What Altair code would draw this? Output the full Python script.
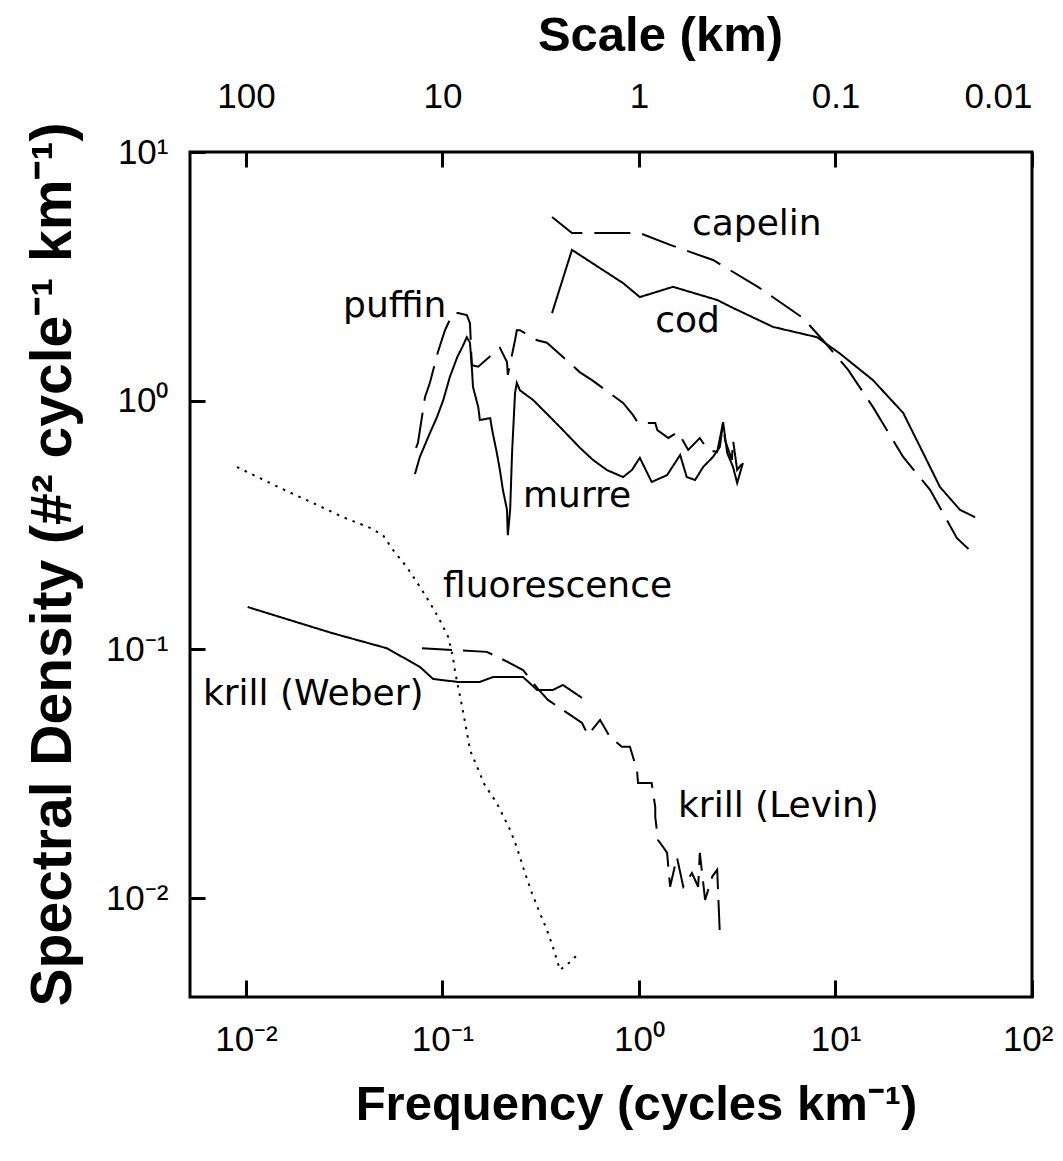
import altair as alt
import pandas as pd

# ---------------- axis ticks and labels ----------------
freq_ticks = [0.01, 0.1, 1, 10, 100]
freq_tick_labels = ["10⁻²", "10⁻¹", "10⁰", "10¹", "10²"]
scale_tick_labels = ["100", "10", "1", "0.1", "0.01"]
dens_ticks = [10, 1, 0.1, 0.01]
dens_tick_labels = ["10¹", "10⁰", "10⁻¹", "10⁻²"]

# ---------------- series (frequency, spectral density) ----------------
capelin_f = [0.361, 0.456, 1.01, 1.44, 2.38, 4.03, 6.83, 8.64, 11.6, 15.5, 22.1, 30.3, 41.5, 49.5]
capelin_s = [5.48, 4.72, 4.72, 4.23, 3.68, 2.87, 2.15, 1.75, 1.33, 0.944, 0.594, 0.438, 0.280, 0.246]

cod_f = [0.361, 0.456, 0.830, 1.01, 1.49, 2.50, 3.01, 4.81, 8.05, 10.5, 15.5, 22.1, 27.9, 34.0, 43.0, 51.3]
cod_s = [2.25, 4.04, 2.97, 2.61, 2.87, 2.54, 2.36, 1.98, 1.80, 1.55, 1.21, 0.893, 0.617, 0.45, 0.364, 0.340]

puffin_f = [0.0733, 0.075, 0.0815, 0.0863, 0.0948, 0.103, 0.113, 0.120, 0.133, 0.138, 0.141, 0.152,
            0.196, 0.213, 0.215, 0.234, 0.239, 0.248, 0.303, 0.340, 0.501, 0.577, 0.830, 0.931,
            0.989, 1.21, 1.24, 1.41, 1.58, 1.78, 2.04, 2.24, 2.50, 2.68, 2.74, 2.97, 3.01, 3.16, 3.46]
puffin_s = [0.646, 0.676, 1.035, 1.18, 1.57, 1.92, 2.25, 2.25, 2.21, 2.05, 1.39, 1.37,
            1.63, 1.43, 1.27, 1.75, 1.92, 1.92, 1.75, 1.71, 1.30, 1.21, 0.979, 0.877,
            0.813, 0.813, 0.762, 0.708, 0.748, 0.634, 0.708, 0.634, 0.622, 0.82, 0.695, 0.578, 0.695, 0.526, 0.578]

murre_f = [0.0724, 0.0767, 0.0863, 0.0938, 0.101, 0.109, 0.119, 0.126, 0.133, 0.138, 0.141, 0.143,
           0.152, 0.155, 0.175, 0.179, 0.189, 0.196, 0.203, 0.213, 0.215, 0.221, 0.226, 0.234,
           0.239, 0.248, 0.289, 0.396, 0.501, 0.583, 0.687, 0.830, 0.920, 1.01, 1.16, 1.39,
           1.62, 1.75, 1.93, 2.12, 2.38, 2.58, 2.68, 2.81, 3.01, 3.16, 3.38]
murre_s = [0.507, 0.594, 0.741, 0.86, 1.007, 1.245, 1.50, 1.64, 1.80, 1.71, 1.37, 1.135,
           0.944, 0.836, 0.851, 0.762, 0.617, 0.526, 0.438, 0.364, 0.288, 0.364, 0.617, 1.074,
           1.18, 1.10, 1.007, 0.784, 0.646, 0.578, 0.526, 0.493, 0.526, 0.589, 0.471, 0.502,
           0.605, 0.493, 0.480, 0.541, 0.594, 0.652, 0.82, 0.617, 0.541, 0.467, 0.562]

fluor_f = [0.0090, 0.0149, 0.0230, 0.0312, 0.0428, 0.0498, 0.0560, 0.0659, 0.0769, 0.0863,
           0.0970, 0.107, 0.113, 0.116, 0.126, 0.133, 0.138, 0.150, 0.164, 0.189,
           0.221, 0.239, 0.263, 0.285, 0.313, 0.340, 0.365, 0.396, 0.461, 0.490]
fluor_s = [0.541, 0.446, 0.381, 0.340, 0.308, 0.288, 0.251, 0.214, 0.178, 0.154,
           0.131, 0.112, 0.0931, 0.0811, 0.0586, 0.0466, 0.0394, 0.0337, 0.0285, 0.0241,
           0.0188, 0.0160, 0.0126, 0.0105, 0.0087, 0.00745, 0.00635, 0.00514, 0.00564, 0.00601]

weber_f = [0.0102, 0.0168, 0.0277, 0.0522, 0.0769, 0.0896, 0.119, 0.155, 0.181, 0.257, 0.303, 0.365, 0.410, 0.513]
weber_s = [0.148, 0.131, 0.116, 0.101, 0.0849, 0.076, 0.074, 0.074, 0.0774, 0.0774, 0.0687, 0.0687, 0.0719, 0.0638]

levin_f = [0.0787, 0.112, 0.168, 0.196, 0.257, 0.303, 0.344, 0.513, 0.550, 0.634, 0.711, 0.818,
           0.899, 0.977, 0.989, 1.16, 1.21, 1.21, 1.25, 1.33, 1.39, 1.44, 1.56, 1.68, 1.86,
           2.00, 2.04, 2.17, 2.36, 2.50, 2.58]
levin_s = [0.101, 0.0995, 0.0977, 0.0923, 0.0826, 0.070, 0.0626, 0.0506, 0.0453, 0.052, 0.0445, 0.0406,
           0.0406, 0.0327, 0.0290, 0.0290, 0.0232, 0.0212, 0.0171, 0.0160, 0.0152, 0.0111, 0.0146, 0.0111, 0.0126,
           0.0111, 0.0152, 0.00982, 0.0122, 0.0130, 0.00711]

series_names = ["capelin", "cod", "puffin", "murre", "fluorescence", "krill (Weber)", "krill (Levin)"]
series_f = [capelin_f, cod_f, puffin_f, murre_f, fluor_f, weber_f, levin_f]
series_s = [capelin_s, cod_s, puffin_s, murre_s, fluor_s, weber_s, levin_s]
series_dash = [[36, 12], [1, 0], [36, 12], [1, 0], [2.5, 6], [1, 0], [30, 11]]

# ---------------- in-plot labels ----------------
label_text = ["capelin", "cod", "puffin", "murre", "fluorescence", "krill (Weber)", "krill (Levin)"]
label_f = [1.86, 1.21, 0.0312, 0.257, 0.1006, 0.00604, 1.58]
label_s = [4.64, 1.89, 2.17, 0.374, 0.163, 0.0597, 0.0212]

# ---------------- build tables ----------------
rows = []
for name, fs, ss in zip(series_names, series_f, series_s):
    for i, (f, s) in enumerate(zip(fs, ss)):
        rows.append({"series": name, "i": i, "f": f, "s": s})
df = pd.DataFrame(rows)
lab_df = pd.DataFrame({"label": label_text, "f": label_f, "s": label_s})


def label_expr(ticks, labels):
    parts = [f"abs(datum.value - {t}) < {t / 1000} ? '{lab}'" for t, lab in zip(ticks, labels)]
    return " : ".join(parts) + " : ''"


TICK_FONT = "Liberation Sans, Arial, sans-serif"
TITLE_FONT = "Liberation Sans, Arial, sans-serif"

xs = alt.Scale(type="log", domain=[0.00519, 100], nice=False)
ys = alt.Scale(type="log", domain=[0.0040, 10], nice=False)

common = dict(domain=False, grid=False, tickColor="black", tickWidth=3,
              labelFont=TICK_FONT, labelFontSize=35, labelColor="black",
              labelOverlap=False, titleFont=TITLE_FONT, titleFontWeight="bold",
              titleColor="black")

bottom_axis = alt.Axis(orient="bottom", values=freq_ticks,
                       labelExpr=label_expr(freq_ticks, freq_tick_labels),
                       tickSize=17, offset=-17, labelPadding=25,
                       labelFlush=True, labelFlushOffset=21,
                       title="Frequency (cycles km⁻¹)", titleFontSize=49,
                       titleX=446, titleY=139, titleAlign="center", titleBaseline="alphabetic",
                       **common)

top_axis = alt.Axis(orient="top", values=freq_ticks,
                    labelExpr=label_expr(freq_ticks, scale_tick_labels),
                    tickSize=15, offset=-15, labelPadding=38, labelFlush=True,
                    title="Scale (km)", titleFontSize=49,
                    titleX=470, titleY=-117, titleAlign="center", titleBaseline="alphabetic",
                    **common)

left_axis = alt.Axis(orient="left", values=dens_ticks,
                     labelExpr=label_expr(dens_ticks, dens_tick_labels),
                     tickSize=15, offset=-15, labelPadding=22,
                     title="Spectral Density (#² cycle⁻¹ km⁻¹)", titleFontSize=57,
                     titleAngle=270, titleX=-135, titleY=412, titleAlign="center",
                     titleBaseline="alphabetic",
                     **common)

lines = alt.Chart(df).mark_line(color="black", strokeWidth=2, strokeCap="butt").encode(
    x=alt.X("f:Q", scale=xs, axis=bottom_axis),
    y=alt.Y("s:Q", scale=ys, axis=left_axis),
    detail="series:N",
    strokeDash=alt.StrokeDash("series:N", scale=alt.Scale(domain=series_names, range=series_dash), legend=None),
    order="i:Q",
)

texts = alt.Chart(lab_df).mark_text(align="left", baseline="alphabetic", font="DejaVu Sans",
                                     fontSize=36, color="black").encode(
    x=alt.X("f:Q", scale=xs, axis=top_axis),
    y=alt.Y("s:Q", scale=ys, axis=left_axis),
    text="label:N",
)

chart = (
    alt.layer(lines, texts)
    .resolve_axis(x="independent")
    .properties(width=842, height=845,
                autosize=alt.AutoSizeParams(type="none"),
                padding={"left": 182, "top": 144, "right": 23, "bottom": 156},
                background="white")
    .configure_view(stroke="black", strokeWidth=3)
)

chart.save("out.html", embed_options={"renderer": "svg", "actions": False})
